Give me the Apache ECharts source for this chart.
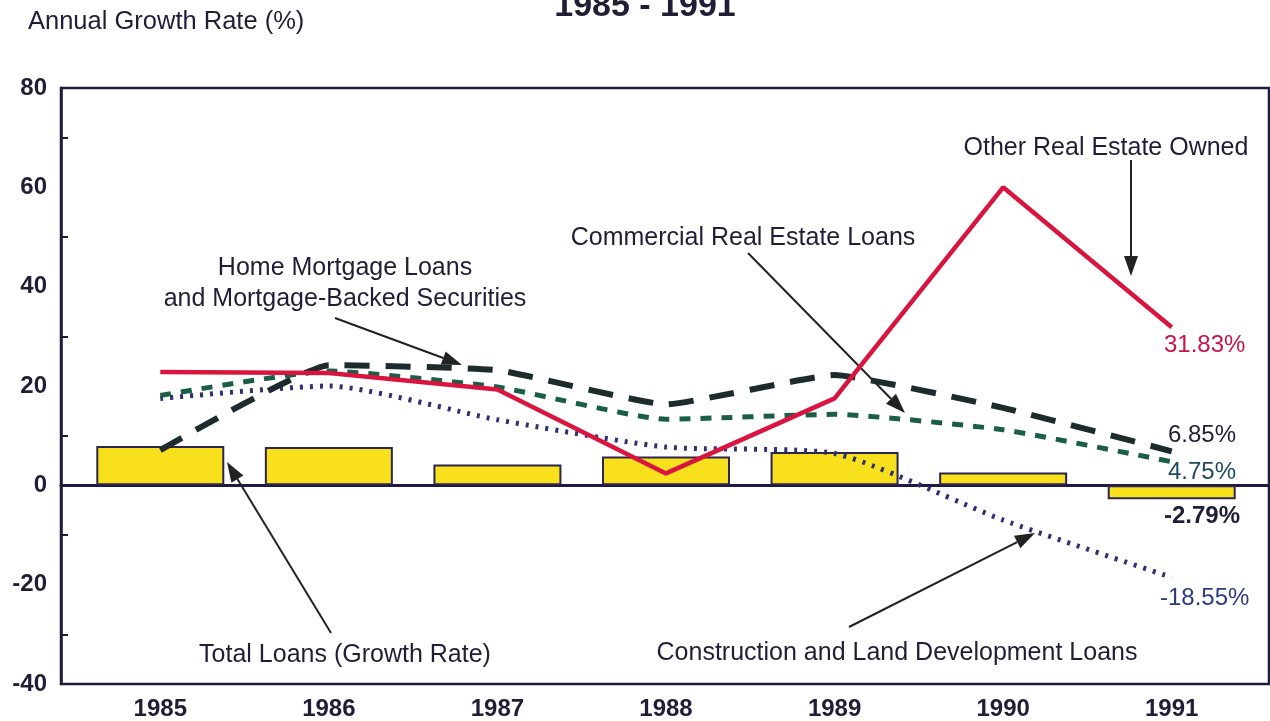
<!DOCTYPE html>
<html>
<head>
<meta charset="utf-8">
<title>Annual Growth Rate 1985 - 1991</title>
<script src="https://cdn.jsdelivr.net/npm/echarts@6/dist/echarts.min.js"></script>
<style>
    html, body { margin: 0; padding: 0; background: #fff; }
    #chart1 { width: 1270px; height: 721px; }
</style>
</head>
<body>
<div id="chart1"></div>
<script type="text/javascript">
    // data
    var years = ['1985', '1986', '1987', '1988', '1989', '1990', '1991'];
    var totalLoans = [7.9, 7.7, 4.2, 5.8, 6.7, 2.6, -2.79];
    var otherRealEstate = [22.8, 22.6, 19.3, 2.4, 17.5, 60, 31.83];
    var homeMortgage = [7.1, 24.2, 23.2, 16.3, 22.2, 15.6, 6.85];
    var commercialRE = [18.1, 23.0, 19.8, 13.3, 14.3, 11.2, 4.75];
    var construction = [17.5, 20.0, 13.2, 7.7, 6.4, -7.0, -18.55];
    var yMin = -40, yMax = 80, yStep = 20;

    var font = 'Liberation Sans, Arial, Helvetica, sans-serif';
    var ink = '#221d36';

    function arrow(x1, y1, x2, y2) {
        var a = Math.atan2(y2 - y1, x2 - x1), L = 20, W = 7;
        var bx = x2 - L * Math.cos(a), by = y2 - L * Math.sin(a);
        var px = -Math.sin(a) * W, py = Math.cos(a) * W;
        return [
            { type: 'line', shape: { x1: x1, y1: y1, x2: bx, y2: by }, style: { stroke: '#222', lineWidth: 2 } },
            { type: 'polygon', shape: { points: [[x2, y2], [bx + px, by + py], [bx - px, by - py]] }, style: { fill: '#222' } }
        ];
    }
    function label(x, y, text, color, bold, align, size) {
        return {
            type: 'text', x: x, y: y,
            style: {
                text: text, fill: color || ink, font: (bold ? 'bold ' : '') + (size || 25) + 'px ' + font,
                textAlign: align || 'center', textVerticalAlign: 'middle'
            }
        };
    }
    function pct(v) { return v.toFixed(2) + '%'; }

    var graphics = [
        label(645, 7, '1985 - 1991', ink, true, 'center', 34),
        label(28, 22, 'Annual Growth Rate (%)', ink, false, 'left', 25.5),
        label(1106, 148, 'Other Real Estate Owned'),
        label(743, 238, 'Commercial Real Estate Loans'),
        label(345, 268, 'Home Mortgage Loans'),
        label(345, 299, 'and Mortgage-Backed Securities'),
        label(345, 655, 'Total Loans (Growth Rate)'),
        label(897, 653, 'Construction and Land Development Loans'),
        label(1164, 345, pct(otherRealEstate[6]), '#c8124a', false, 'left', 24),
        label(1168, 435, pct(homeMortgage[6]), ink, false, 'left', 24),
        label(1168, 472, pct(commercialRE[6]), '#1d4a5e', false, 'left', 24),
        label(1164, 516, pct(totalLoans[6]), ink, true, 'left', 24),
        label(1160, 598, pct(construction[6]), '#2c3a80', false, 'left', 24)
    ];
    graphics = graphics.concat(
        arrow(1131, 160, 1131, 276),
        arrow(748, 253, 905, 413),
        arrow(335, 318, 462, 365),
        arrow(331, 633, 227, 462),
        arrow(849, 627, 1035, 533)
    );

    var myChart1 = echarts.init(document.getElementById('chart1'));
    var option = {
        animation: false,
        backgroundColor: '#fff',
        textStyle: { fontFamily: font },
        grid: [
            { left: 61, top: 88, width: 1208, height: 596, show: true, borderColor: '#1e1a40', borderWidth: 2.5, outerBoundsMode: 'none' },
            { left: 76, top: 88, width: 1180, height: 596, outerBoundsMode: 'none' }
        ],
        xAxis: [
            {
                type: 'category', gridIndex: 0, data: years,
                axisLine: { onZero: true, lineStyle: { color: '#1e1a40', width: 3 } },
                axisTick: { show: false }, axisLabel: { show: false }
            },
            {
                type: 'category', gridIndex: 1, data: years, position: 'bottom',
                axisLine: { show: false, onZero: false }, axisTick: { show: false },
                axisLabel: { fontSize: 24, fontWeight: 'bold', color: ink, margin: 13 }
            }
        ],
        yAxis: [
            {
                type: 'value', gridIndex: 0, min: yMin, max: yMax, interval: yStep,
                axisLine: { show: true, lineStyle: { color: '#1e1a40', width: 2.5 } },
                axisTick: { show: false, inside: true },
                minorTick: { show: true, splitNumber: 2, length: 7, lineStyle: { color: '#1e1a40', width: 2 } },
                splitLine: { show: false },
                axisLabel: { fontSize: 24, fontWeight: 'bold', color: ink, margin: 14 }
            },
            {
                type: 'value', gridIndex: 1, min: yMin, max: yMax, interval: yStep, show: false,
                splitLine: { show: false }
            }
        ],
        series: [
            {
                name: 'Total Loans (Growth Rate)', type: 'bar', xAxisIndex: 1, yAxisIndex: 1,
                data: totalLoans, barWidth: 128,
                itemStyle: { color: '#f8e11c', borderColor: '#2b2550', borderWidth: 2 }
            },
            {
                name: 'Construction and Land Development Loans', type: 'line', xAxisIndex: 1, yAxisIndex: 1,
                data: construction, smooth: 0.2, showSymbol: false,
                lineStyle: { color: '#2f2f72', width: 5, type: [3, 7] }
            },
            {
                name: 'Commercial Real Estate Loans', type: 'line', xAxisIndex: 1, yAxisIndex: 1,
                data: commercialRE, smooth: 0.15, showSymbol: false,
                lineStyle: { color: '#1b5e48', width: 5, type: [11, 10] }
            },
            {
                name: 'Home Mortgage Loans and Mortgage-Backed Securities', type: 'line', xAxisIndex: 1, yAxisIndex: 1,
                data: homeMortgage, smooth: 0.12, showSymbol: false,
                lineStyle: { color: '#1e2b2d', width: 6, type: [25, 16] }
            },
            {
                name: 'Other Real Estate Owned', type: 'line', xAxisIndex: 1, yAxisIndex: 1,
                data: otherRealEstate, showSymbol: false,
                lineStyle: { color: '#d9143f', width: 4.5 }
            }
        ],
        graphic: graphics
    };
    myChart1.setOption(option);
</script>
</body>
</html>
